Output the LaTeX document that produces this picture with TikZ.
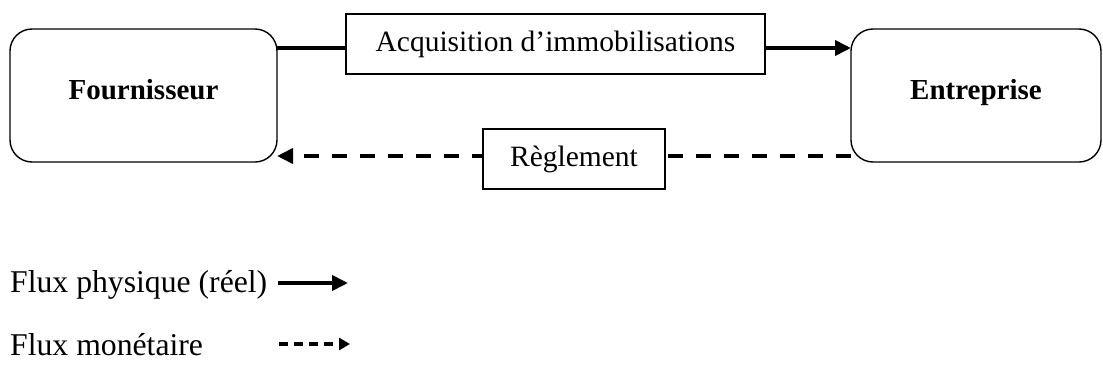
\documentclass[tikz,border=0pt]{standalone}
\usepackage{fontspec}
\setmainfont{Liberation Serif}
\usetikzlibrary{arrows.meta}
\begin{document}
\begin{tikzpicture}[x=1pt,y=-1pt,
  every node/.style={font=\fontsize{29.5}{34}\selectfont},
  party/.style={draw, line width=1.4pt, rounded corners=22pt, minimum width=267pt, minimum height=133pt, inner sep=0pt, font=\fontsize{29}{34}\selectfont\bfseries},
  flowlabel/.style={draw, line width=1.4pt, fill=white, minimum height=60pt, inner sep=0pt},
  legendtext/.style={anchor=base west, inner sep=0pt, font=\fontsize{31.7}{36}\selectfont},
  realflow/.style={line width=3.8pt, -{Triangle[length=16pt,width=15pt]}},
  moneyflow/.style={line width=3.8pt, dash pattern=on 15pt off 13pt, -{Triangle[length=16pt,width=15pt]}},
  legendmoney/.style={line width=3.8pt, dash pattern=on 9pt off 6pt, -{Triangle[length=11pt,width=12pt]}}
]
\useasboundingbox (0,0) rectangle (1103,370);

% the two parties
\node[party] (F) at (143.5,95.5) {\raisebox{13pt}{Fournisseur}};
\node[party, minimum width=250pt] (E) at (976,95.5) {\raisebox{13pt}{Entreprise}};

% flows between them
\coordinate (Fa) at (277,48);
\coordinate (Ea) at (851,48);
\coordinate (Fb) at (277,156);
\coordinate (Eb) at (851,156);
\draw[realflow] (Fa) -- (Ea);
\draw[moneyflow] (Eb) -- (Fb);

\node[flowlabel, minimum width=419pt] (acq) at (555.5,44) {Acquisition d'immobilisations};
\node[flowlabel, minimum width=182pt] (reg) at (574,159) {Règlement};

% legend
\node[legendtext] (lphys) at (10,292) {Flux physique (réel)};
\node[legendtext] (lmon) at (10,355) {Flux monétaire};
\coordinate (p1) at (278,283);
\coordinate (p2) at (348,283);
\coordinate (m1) at (279,344);
\coordinate (m2) at (350,344);
\draw[realflow] (p1) -- (p2);
\draw[legendmoney] (m1) -- (m2);
\end{tikzpicture}
\end{document}
